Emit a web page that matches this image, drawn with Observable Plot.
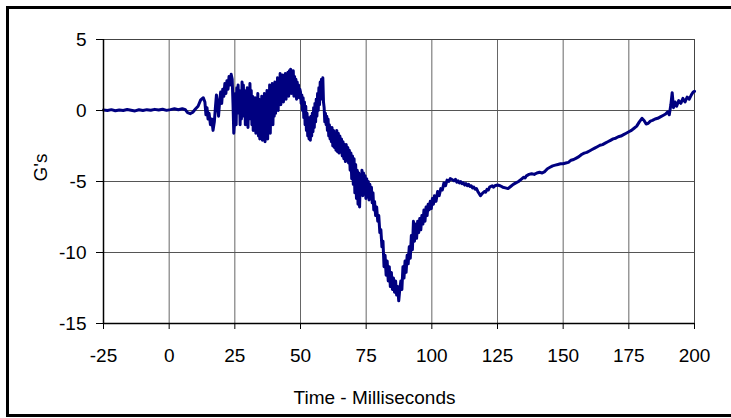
<!DOCTYPE html>
<html>
<head>
<meta charset="utf-8">
<script src="https://cdn.jsdelivr.net/npm/d3@7"></script>
<script src="https://cdn.jsdelivr.net/npm/@observablehq/plot@0.6"></script>
<style>
  html, body { margin: 0; padding: 0; background: #fff; overflow: hidden; width: 731px; height: 418px; }
  #wrap { position: relative; width: 731px; height: 418px; }
  #border { position: absolute; left: 6px; top: 6px; width: 760px; height: 405px; border: 3px solid #000; pointer-events: none; }
  #chart { position: absolute; left: 0; top: 0; }
  svg { font-family: "Liberation Sans", Arial, sans-serif; }
</style>
</head>
<body>
<div id="wrap"><div id="chart"></div><div id="border"></div></div>
<script>
const xTicks = [-25, 0, 25, 50, 75, 100, 125, 150, 175, 200];
const yTicks = [-15, -10, -5, 0, 5];
const xLabel = "Time - Milliseconds";
const yLabel = "G's";

// [time ms, G's]
const quietPhase = [
  [-25,0.03],[-23.5,0.0],[-22,0.06],[-20.5,-0.02],[-19,0.04],[-17.5,0.0],[-16,0.07],[-14.5,0.02],
  [-13,-0.03],[-11.5,0.05],[-10,0.0],[-8.5,0.06],[-7,0.02],[-5.5,0.08],[-4,0.03],[-2.5,0.09],
  [-1,0.01],[0.5,0.06],[2,0.12],[3.5,0.05],[5,0.12],[6.2,0.05],[7,-0.15],[8,-0.22],[9,-0.12],
  [10,0.1],[11,0.3],[12,0.75],[13,0.9],[13.6,0.6]
];
const onsetPhase = [
  [14.0,-0.3],[14.4,0.2],[14.8,-0.6],[15.2,-0.2],[15.7,-1.0],[16.2,-0.6],[16.7,-1.4],[17.2,-0.8],
  [17.6,0.2],[18.0,1.1],[18.4,0.4],[18.8,-0.4],[19.2,0.6],[19.6,1.3],[20.0,0.5],[20.4,1.5],
  [20.8,1.0],[21.2,1.9],[21.6,1.2],[22.0,2.1],[22.4,1.5],[22.8,2.4],[23.2,1.8],[23.6,2.55],
  [24.0,2.2],[24.3,0.5],[24.6,-1.6]
];
const oscillationPhase = [
  [25.0,-0.5],[25.25,1.2],[25.5,-1.0],[25.75,1.6],[26.0,-0.2],[26.25,1.8],[26.5,0.0],[26.75,1.4],
  [27.0,-1.0],[27.25,1.0],[27.5,-0.6],[27.75,2.0],[28.0,0.2],[28.25,1.8],[28.5,-0.4],[28.75,1.4],
  [29.0,-1.0],[29.25,1.2],[29.5,-0.8],[29.75,1.6],[30.0,-1.2],[30.25,0.8],[30.5,-0.6],[30.75,1.9],
  [31.0,-0.2],[31.25,1.4],[31.5,-1.0],[31.75,1.0],[32.0,-1.4],[32.25,0.6],[32.5,-1.2],[32.75,0.9],
  [33.0,-1.6],[33.25,0.4],[33.5,-1.0],[33.75,1.2],[34.0,-1.8],[34.25,0.8],[34.5,-2.0],[34.75,0.2],
  [35.0,-1.6],[35.25,1.0],[35.5,-2.1],[35.75,0.4],[36.0,-1.8],[36.25,1.2],[36.5,-2.2],[36.75,0.6],
  [37.0,-1.6],[37.25,1.4],[37.5,-2.0],[37.75,0.8],[38.0,-1.2],[38.25,1.8],[38.5,-1.6],[38.75,1.0],
  [39.0,-0.8],[39.25,1.9],[39.5,-1.0],[39.75,1.4],[40.0,-0.4],[40.25,2.0],[40.5,-0.2],[40.75,1.6],
  [41.0,0.2],[41.25,2.3],[41.5,0.0],[41.75,2.0],[42.0,0.5],[42.25,2.6],[42.5,0.4],[42.75,2.2],
  [43.0,0.8],[43.25,2.5],[43.5,0.6],[43.75,2.2],[44.0,1.0],[44.25,2.6],[44.5,0.8],[44.75,2.4],
  [45.0,1.2],[45.25,2.7],[45.5,1.0],[45.75,2.8],[46.0,1.4],[46.25,2.9],[46.5,1.2],[46.75,2.6],
  [47.0,1.6],[47.25,2.8],[47.5,1.0],[47.75,2.4],[48.0,1.4],[48.25,2.2],[48.5,0.8],[48.75,2.0],
  [49.0,1.2],[49.25,1.8],[49.5,0.9],[49.75,1.5]
];
const crushPhase = [
  [50.0,1.3],[50.25,0.5],[50.5,1.1],[50.75,0.0],[51.0,0.9],[51.25,-0.5],[51.5,0.6],[51.75,-1.0],
  [52.0,0.3],[52.25,-1.4],[52.5,-0.2],[52.75,-1.8],[53.0,-0.5],[53.25,-2.0],[53.5,-0.6],[53.75,-2.1],
  [54.0,-0.4],[54.25,-1.8],[54.5,-0.2],[54.75,-1.5],[55.0,0.2],[55.25,-1.2],[55.5,0.5],[55.75,-0.8],
  [56.0,0.8],[56.25,-0.4],[56.5,1.2],[56.75,0.0],[57.0,1.6],[57.25,0.4],[57.5,2.0],[57.75,0.8],
  [58.0,2.2],[58.25,1.0],[58.5,2.3],[58.75,0.6],[59.0,0.2],[59.25,-0.8],[59.5,-0.2],[59.75,-1.0],
  [60.0,-0.4],[60.25,-1.4],[60.5,-0.6],[60.75,-1.8],[61.0,-1.0],[61.25,-2.0],[61.5,-1.2],[61.75,-2.2],
  [62.0,-1.2],[62.3,-2.5],[62.6,-1.4],[62.9,-2.6],[63.2,-1.6],[63.5,-2.8],[63.8,-1.4],[64.1,-2.9],
  [64.4,-1.6],[64.7,-3.0],[65.0,-1.8],[65.3,-2.9],[65.6,-2.0],[65.9,-3.2],[66.2,-2.2],[66.5,-3.4],
  [66.8,-2.4],[67.1,-3.6],[67.4,-2.4],[67.7,-3.5],[68.0,-2.6],[68.3,-3.7],[68.6,-2.8],[68.9,-4.2],
  [69.2,-3.0],[69.5,-4.8],[69.8,-3.2],[70.1,-5.2],[70.4,-3.4],[70.7,-5.8],[71.0,-3.8],[71.3,-6.2],
  [71.6,-4.2],[71.9,-6.6],[72.2,-4.4],[72.5,-6.8],[72.8,-4.6],[73.1,-5.8],[73.4,-4.2],[73.7,-6.0],
  [74.0,-4.4],[74.3,-5.8],[74.6,-4.6],[74.9,-6.2],[75.2,-4.8],[75.5,-6.0],[75.8,-5.0],[76.1,-6.3],
  [76.4,-5.2],[76.7,-6.2],[77.0,-5.4],[77.3,-6.5],[77.6,-5.8],[77.9,-7.0],[78.2,-6.4],[78.6,-7.4],
  [79.0,-6.8],[79.4,-7.8],[79.8,-7.4],[80.2,-8.6],[80.6,-8.4],[81.0,-9.6],[81.4,-9.2],[81.8,-11.0],
  [82.2,-10.2],[82.6,-11.6],[83.0,-10.6],[83.4,-12.0],[83.8,-11.0],[84.2,-12.4],[84.6,-11.4],[85.0,-12.6],
  [85.4,-11.8],[85.8,-12.8],[86.2,-12.0],[86.6,-13.0],[87.0,-12.4],[87.4,-13.4],[87.8,-12.6],[88.2,-12.0],
  [88.6,-12.6],[89.0,-11.0],[89.4,-11.8]
];
const reboundPhase = [
  [89.8,-10.6],[90.2,-11.4],[90.6,-10.2],[91.0,-10.8],[91.4,-9.6],[91.8,-10.4],[92.2,-8.8],[92.6,-9.8],
  [93.0,-7.8],[93.4,-9.2],[93.8,-8.0],[94.2,-9.0],[94.6,-7.8],[95.0,-8.6],[95.4,-7.6],[95.8,-8.4],
  [96.2,-7.4],[96.6,-8.0],[97.0,-7.0],[97.4,-7.8],[97.8,-6.8],[98.2,-7.4],[98.6,-6.6],[99.0,-7.0],
  [99.4,-6.4],[99.8,-6.9],[100.2,-6.2],[100.6,-6.6],[101.0,-6.0],[101.6,-6.4],[102.2,-5.7],[102.8,-6.0],
  [103.4,-5.5],[104.0,-5.6],[104.6,-5.1],[105.2,-5.3],[105.8,-4.9],[106.4,-5.0],[107.0,-4.8],[107.6,-4.85]
];
const recoveryPhase = [
  [108.4,-4.95],[109.0,-4.85],[109.5,-5.05],[110.0,-4.95],[110.5,-5.1],[111.0,-5.0],[111.5,-5.15],[112.0,-5.1],
  [112.5,-5.25],[113.0,-5.15],[113.5,-5.3],[114.0,-5.2],[114.5,-5.35],[115.0,-5.3],[115.5,-5.45],[116.0,-5.4],
  [116.5,-5.55],[117.0,-5.5],[117.5,-5.7],[118.0,-5.85],[118.5,-6.0],[119.2,-5.85],[120,-5.7],[120.5,-5.75],
  [121,-5.55],[121.5,-5.6],[122,-5.4],[123,-5.3],[123.5,-5.4],[124,-5.3],[125,-5.25],[126,-5.3],
  [127,-5.4],[128,-5.45],[129,-5.5],[130,-5.35],[131,-5.2],[132,-5.1],[133,-5.0],[134,-4.85],
  [135,-4.7],[135.5,-4.75],[136,-4.6],[137,-4.5],[138,-4.45],[139,-4.5],[140,-4.4],[141,-4.35],
  [142,-4.4],[143,-4.3],[144,-4.1],[145,-4.0],[146,-3.9],[147,-3.85],[148,-3.8],[149,-3.75],
  [150,-3.75],[151,-3.7],[152,-3.65],[153,-3.5],[154,-3.45],[155,-3.35],[156,-3.25],[157,-3.1],
  [158,-3.0],[159,-2.95],[160,-2.85],[161,-2.75],[162,-2.65],[163,-2.55],[164,-2.45],[165,-2.4],
  [166,-2.3],[167,-2.2],[168,-2.1],[169,-2.0],[170,-1.95],[171,-1.85],[172,-1.8],[173,-1.7],
  [174,-1.6],[175,-1.5],[176,-1.4],[177,-1.25],[178,-1.1],[179,-0.8],[180,-0.55],[180.8,-0.7],
  [181.6,-0.95],[182.4,-0.9],[183.2,-0.75],[184,-0.7],[185,-0.6],[186,-0.55],[187,-0.45],[188,-0.35],
  [189,-0.25],[189.8,-0.1],[190.4,-0.3],[191,0.4],[191.5,1.25],[192,0.2],[192.6,0.6],[193.2,0.3],
  [194,0.7],[194.8,0.5],[195.6,0.85],[196.4,0.6],[197.2,0.95],[198,0.8],[198.8,1.1],[199.5,1.3],
  [200,1.35]
];

const data = [...quietPhase, ...onsetPhase, ...oscillationPhase, ...crushPhase, ...reboundPhase, ...recoveryPhase]
  .map(([t, g]) => ({t, g}));

const fs = 19;
const chart = Plot.plot({
  width: 731,
  height: 418,
  marginLeft: 103,
  marginRight: 37,
  marginTop: 39,
  marginBottom: 95,
  style: {fontFamily: '"Liberation Sans", Arial, sans-serif', fontSize: fs + "px", color: "#000", background: "transparent"},
  x: {domain: [-25, 200]},
  y: {domain: [-15, 5]},
  marks: [
    Plot.gridX(xTicks, {stroke: "#666", strokeOpacity: 1, strokeWidth: 1}),
    Plot.gridY(yTicks, {stroke: "#555", strokeOpacity: 1, strokeWidth: 1}),
    Plot.frame({stroke: "#444", strokeWidth: 1}),
    Plot.line(data, {x: "t", y: "g", stroke: "#000080", strokeWidth: 3, strokeLinejoin: "round"}),
    Plot.ruleX([-25], {stroke: "#000", strokeWidth: 1.5}),
    Plot.ruleY([-15], {stroke: "#000", strokeWidth: 1.5}),
    Plot.axisX(xTicks, {tickSize: 6, tickPadding: 19, tickFormat: d => String(d), label: null, fontSize: fs, stroke: "#000"}),
    Plot.axisY(yTicks, {tickSize: 7, tickPadding: 10, tickFormat: d => String(d), label: null, fontSize: fs, stroke: "#000"}),
    Plot.text([xLabel], {frameAnchor: "bottom", dx: -24.5, dy: 80, fontSize: fs, fill: "#000"}),
    Plot.text([yLabel], {frameAnchor: "left", dx: -63, rotate: -90, fontSize: fs, fill: "#000"})
  ]
});
document.getElementById("chart").appendChild(chart);
</script>
</body>
</html>
